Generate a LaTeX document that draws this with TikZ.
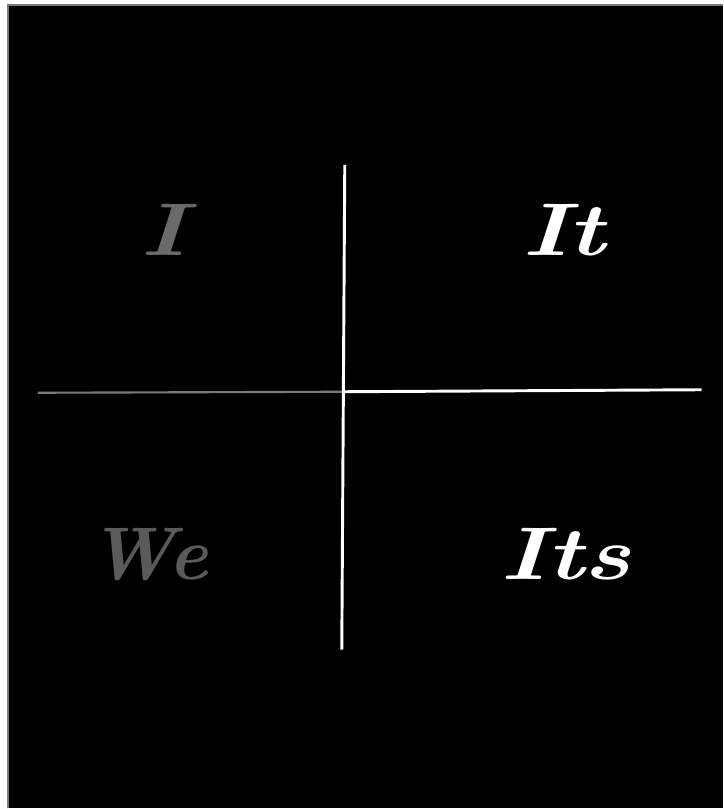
\documentclass[tikz,border=0pt]{standalone}
\usepackage{xcolor}
\usepackage{tikz}
\definecolor{dimgray}{HTML}{6A6A6A}
\definecolor{darkgray}{HTML}{5A5A5A}
\definecolor{linegray}{HTML}{7A7A7A}

\tikzset{
  quadlabel/.style={font=\fontsize{56}{60}\selectfont\bfseries\itshape, xscale=1.3},
  axisline/.style={line width=2.2pt, white}
}

\begin{document}
\begin{tikzpicture}[x=0.75pt, y=-0.75pt]
        % Background
        \fill[white] (0,0) rectangle (723,809);
        \fill[black] (8,5) rectangle (723,809);
        \draw[linegray, line width=0.8pt] (8,809) -- (8,5) -- (723,5);

        % Axes
        \coordinate (top) at (345,165);
        \coordinate (bottom) at (342,650);
        \coordinate (left) at (38,393);
        \coordinate (centre) at (343,392);
        \coordinate (right) at (702,390);
        \draw[linegray, line width=1.6pt] (left) -- (centre);
        \draw[axisline] (centre) -- (right);
        \draw[axisline] (top) -- (bottom);

        % Quadrants
        \node[quadlabel, dimgray] (i) at (163,230) {I};
        \node[quadlabel, white] (it) at (564,230) {It};
        \node[quadlabel, darkgray, xscale=0.77] (we) at (148,555) {We};
        \node[quadlabel, white] (its) at (566,555) {Its};
    \end{tikzpicture}
\end{document}
